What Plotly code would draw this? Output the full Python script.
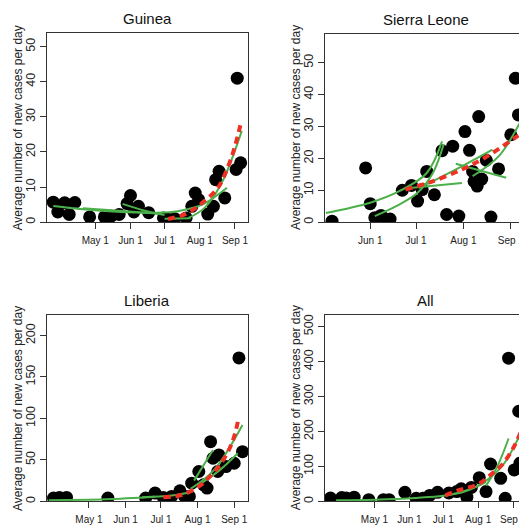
import plotly.graph_objects as go

# ---------------- Guinea ----------------
guinea_dates = ["2014-03-25", "2014-03-29", "2014-04-04", "2014-04-08", "2014-04-13", "2014-04-26",
                "2014-05-09", "2014-05-15", "2014-05-22", "2014-05-29", "2014-06-01", "2014-06-04",
                "2014-06-08", "2014-06-17", "2014-06-30", "2014-07-04", "2014-07-10", "2014-07-20",
                "2014-07-25", "2014-07-28", "2014-07-31", "2014-08-08", "2014-08-13", "2014-08-15",
                "2014-08-18", "2014-08-23", "2014-09-02", "2014-09-03", "2014-09-06"]
guinea_cases = [5.7, 2.9, 5.5, 2.2, 5.6, 1.5,
                1.5, 1.7, 2.2, 5.3, 7.6, 2.9,
                4.5, 2.7, 1.2, 0.8, 1.0, 1.2,
                4.5, 8.3, 6.4, 2.3, 4.5, 12.1,
                14.5, 6.9, 15.0, 41.0, 16.9]
guinea_green_dates = [["2014-03-25", "2014-04-20", "2014-05-20", "2014-06-20", "2014-07-05", "2014-07-20", "2014-08-05", "2014-08-25"],
                      ["2014-04-20", "2014-05-25", "2014-06-29"],
                      ["2014-05-25", "2014-06-12", "2014-07-01"],
                      ["2014-07-01", "2014-07-24"],
                      ["2014-07-22", "2014-08-05", "2014-08-20", "2014-09-07"]]
guinea_green_vals = [[4.6, 3.7, 3.0, 2.7, 2.8, 3.6, 5.3, 9.8],
                     [4.0, 3.2, 2.3],
                     [5.2, 3.4, 2.0],
                     [1.0, 1.1],
                     [1.2, 4.0, 11.0, 26.0]]
guinea_red_dates = ["2014-07-04", "2014-07-15", "2014-07-25", "2014-08-05", "2014-08-17", "2014-08-26", "2014-09-01", "2014-09-06"]
guinea_red_vals = [0.9, 1.8, 3.3, 6.0, 9.8, 15.9, 21.6, 28.0]

# ---------------- Sierra Leone ----------------
sl_dates = ["2014-05-07", "2014-05-29", "2014-06-01", "2014-06-04", "2014-06-08", "2014-06-11",
            "2014-06-14", "2014-06-22", "2014-06-28", "2014-07-02", "2014-07-05", "2014-07-08",
            "2014-07-13", "2014-07-18", "2014-07-21", "2014-07-25", "2014-07-29", "2014-08-02",
            "2014-08-05", "2014-08-07", "2014-08-08", "2014-08-10", "2014-08-11", "2014-08-13",
            "2014-08-16", "2014-08-19", "2014-08-24", "2014-09-01", "2014-09-04", "2014-09-06"]
sl_cases = [0.3, 17.0, 5.8, 1.4, 2.1, 1.0,
            1.0, 10.0, 11.5, 6.6, 10.2, 15.9,
            8.6, 22.4, 2.4, 23.8, 1.9, 28.4,
            22.5, 15.9, 12.8, 11.3, 33.1, 13.5,
            19.4, 1.6, 16.7, 27.4, 45.1, 33.6]
sl_green_dates = [["2014-05-03", "2014-06-01", "2014-06-20", "2014-07-08", "2014-07-18"],
                  ["2014-06-04", "2014-06-18", "2014-07-02", "2014-07-12", "2014-07-19"],
                  ["2014-06-27", "2014-07-31"],
                  ["2014-07-03", "2014-07-31", "2014-08-20"],
                  ["2014-07-27", "2014-08-29"],
                  ["2014-08-07", "2014-08-24", "2014-09-08"]]
sl_green_vals = [[2.9, 6.1, 9.7, 15.4, 25.3],
                 [1.9, 5.0, 9.2, 15.4, 24.3],
                 [10.7, 12.3],
                 [10.7, 17.5, 22.7],
                 [18.3, 13.9],
                 [14.4, 20.6, 32.1]]
sl_red_dates = ["2014-06-24", "2014-07-10", "2014-07-31", "2014-08-15", "2014-09-06"]
sl_red_vals = [10.2, 12.5, 16.5, 20.2, 27.2]

# ---------------- Liberia ----------------
lib_dates = ["2014-04-01", "2014-04-06", "2014-04-12", "2014-05-17", "2014-06-18", "2014-06-26",
             "2014-07-03", "2014-07-10", "2014-07-17", "2014-07-21", "2014-07-25", "2014-07-27",
             "2014-08-02", "2014-08-06", "2014-08-09", "2014-08-12", "2014-08-14", "2014-08-18",
             "2014-08-19", "2014-08-25", "2014-09-01", "2014-09-05", "2014-09-08"]
lib_cases = [4.0, 4.8, 4.8, 4.0, 4.0, 10.0,
             4.8, 6.0, 12.7, 6.0, 6.0, 22.0,
             36.0, 20.0, 16.0, 72.0, 52.0, 36.0,
             56.0, 42.0, 46.0, 173.0, 60.0]
lib_green_dates = [["2014-03-28", "2014-05-15", "2014-06-26"],
                   ["2014-06-15", "2014-07-10", "2014-07-28"],
                   ["2014-07-29", "2014-08-14"],
                   ["2014-07-26", "2014-08-15", "2014-09-08"],
                   ["2014-08-02", "2014-08-20", "2014-09-04"]]
lib_green_vals = [[1.5, 2.5, 5.5],
                  [5.0, 7.0, 12.0],
                  [25.0, 62.0],
                  [15.0, 38.0, 92.0],
                  [20.0, 38.0, 58.0]]
lib_red_dates = ["2014-07-03", "2014-07-19", "2014-08-02", "2014-08-10", "2014-08-20", "2014-08-30", "2014-09-05"]
lib_red_vals = [5.0, 8.0, 18.0, 28.0, 44.0, 70.0, 102.0]

# ---------------- All ----------------
all_dates = ["2014-03-23", "2014-04-02", "2014-04-06", "2014-04-13", "2014-04-26", "2014-05-09",
             "2014-05-14", "2014-05-28", "2014-06-07", "2014-06-13", "2014-06-19", "2014-06-26",
             "2014-07-06", "2014-07-13", "2014-07-17", "2014-07-22", "2014-07-26", "2014-08-02",
             "2014-08-08", "2014-08-12", "2014-08-21", "2014-08-25", "2014-08-28", "2014-09-02",
             "2014-09-06", "2014-09-07"]
all_cases = [9.4, 11.0, 10.0, 12.0, 5.0, 5.0,
             5.0, 26.0, 9.0, 9.0, 17.0, 26.0,
             24.0, 28.0, 36.0, 12.0, 40.0, 68.0,
             28.0, 107.0, 66.0, 9.0, 410.0, 90.0,
             258.0, 109.0]
all_green_dates = [["2014-03-28", "2014-05-01", "2014-06-07", "2014-07-01", "2014-07-20", "2014-08-08"],
                   ["2014-08-08", "2014-08-18", "2014-08-28"],
                   ["2014-07-03", "2014-08-01", "2014-08-22", "2014-09-07"]]
all_green_vals = [[3.0, 5.0, 10.0, 16.0, 28.0, 55.0],
                  [45.0, 100.0, 180.0],
                  [16.0, 45.0, 100.0, 190.0]]
all_red_dates = ["2014-07-03", "2014-07-13", "2014-08-01", "2014-08-12", "2014-08-22", "2014-09-01", "2014-09-08"]
all_red_vals = [17.0, 30.0, 49.0, 76.0, 104.0, 152.0, 200.0]

# ---------------- Axes ----------------
titles = ["Guinea", "Sierra Leone", "Liberia", "All"]
month_ticks_a = ["2014-05-01", "2014-06-01", "2014-07-01", "2014-08-01", "2014-09-01"]
month_labels_a = ["May 1", "Jun 1", "Jul 1", "Aug 1", "Sep 1"]
month_ticks_b = ["2014-06-01", "2014-07-01", "2014-08-01", "2014-09-01"]
month_labels_b = ["Jun 1", "Jul 1", "Aug 1", "Sep 1"]
guinea_yticks = [0, 10, 20, 30, 40, 50]
sl_yticks = [0, 10, 20, 30, 40, 50]
lib_yticks = [0, 50, 100, 150, 200]
all_yticks = [0, 100, 200, 300, 400, 500]

# the page body adds an 8px margin; the figure is sized so it ends at the window edge
OFF = 8
W, H = 527 - OFF, 525 - OFF
GREEN = "#4cb04a"
RED = "#ee3124"
FONT = "Liberation Sans, Arial, sans-serif"

panels = [
    dict(dates=guinea_dates, cases=guinea_cases, gd=guinea_green_dates, gv=guinea_green_vals,
         rd=guinea_red_dates, rv=guinea_red_vals, px=(47, 250), py=(33, 223),
         xr=["2014-03-19 05:00", "2014-09-12 14:00"], yr=[0, 53.9], xt=month_ticks_a, xl=month_labels_a,
         yt=guinea_yticks, right=False),
    dict(dates=sl_dates, cases=sl_cases, gd=sl_green_dates, gv=sl_green_vals,
         rd=sl_red_dates, rv=sl_red_vals, px=(327.3, 527), py=(34, 223),
         xr=["2014-05-02 07:00", "2014-09-09 00:00"], yr=[0, 59], xt=month_ticks_b, xl=month_labels_b,
         yt=sl_yticks, right=True),
    dict(dates=lib_dates, cases=lib_cases, gd=lib_green_dates, gv=lib_green_vals,
         rd=lib_red_dates, rv=lib_red_vals, px=(47, 250), py=(316, 503.3),
         xr=["2014-03-26 05:00", "2014-09-12 19:00"], yr=[0, 225], xt=month_ticks_a, xl=month_labels_a,
         yt=lib_yticks, right=False),
    dict(dates=all_dates, cases=all_cases, gd=all_green_dates, gv=all_green_vals,
         rd=all_red_dates, rv=all_red_vals, px=(327.3, 527), py=(316, 503.3),
         xr=["2014-03-18 00:00", "2014-09-09 19:00"], yr=[0, 534], xt=month_ticks_a, xl=month_labels_a,
         yt=all_yticks, right=True),
]

fig = go.Figure()
annotations = []
layout_axes = {}
for i, p in enumerate(panels):
    n = i + 1
    xa = "x" if n == 1 else f"x{n}"
    ya = "y" if n == 1 else f"y{n}"
    fig.add_trace(go.Scatter(x=p["dates"], y=p["cases"], mode="markers", xaxis=xa, yaxis=ya,
                             marker=dict(color="black", size=13, line=dict(width=0)), showlegend=False))
    for gd, gv in zip(p["gd"], p["gv"]):
        fig.add_trace(go.Scatter(x=gd, y=gv, mode="lines", xaxis=xa, yaxis=ya,
                                 line=dict(color=GREEN, width=2, shape="spline", smoothing=1.0),
                                 showlegend=False))
    fig.add_trace(go.Scatter(x=p["rd"], y=p["rv"], mode="lines", xaxis=xa, yaxis=ya,
                             line=dict(color=RED, width=4, dash="7px,5px", shape="spline", smoothing=1.0),
                             showlegend=False))
    x0, x1 = p["px"][0] - OFF, p["px"][1] - OFF
    y0, y1 = p["py"][0] - OFF, p["py"][1] - OFF
    xdom = [x0 / W, min(x1 / W, 1.0)]
    ydom = [1 - y1 / H, 1 - y0 / H]
    layout_axes["xaxis" if n == 1 else f"xaxis{n}"] = dict(
        domain=xdom, anchor=ya, range=p["xr"], type="date",
        tickvals=p["xt"], ticktext=p["xl"], ticks="outside", ticklen=6, tickcolor="#333",
        ticklabeloverflow="allow", ticklabelstandoff=3,
        showline=True, linecolor="#333", linewidth=1, mirror=True,
        showgrid=False, zeroline=False, tickfont=dict(family=FONT, size=10, color="#222"))
    layout_axes["yaxis" if n == 1 else f"yaxis{n}"] = dict(
        domain=ydom, anchor=xa, range=p["yr"], tickvals=p["yt"], ticks="outside", ticklen=6,
        tickcolor="#333", tickangle=-90, showline=True, linecolor="#333", linewidth=1,
        mirror=not p["right"], showgrid=False, zeroline=False,
        tickfont=dict(family=FONT, size=12.5, color="#222"))
    cx = x0 + 203 / 2
    annotations.append(dict(text=titles[i], x=cx / W, y=1 - (y0 - 14) / H, xref="paper", yref="paper",
                            xanchor="center", yanchor="middle", showarrow=False,
                            font=dict(family=FONT, size=15, color="#111")))
    annotations.append(dict(text="Average number of new cases per day", x=(x0 - 29) / W,
                            y=1 - ((y0 + y1) / 2) / H, xref="paper", yref="paper", textangle=-90,
                            xanchor="center", yanchor="middle", showarrow=False,
                            font=dict(family=FONT, size=12, color="#222")))

fig.update_layout(width=W, height=H, autosize=False, margin=dict(l=0, r=0, t=0, b=0),
                  paper_bgcolor="white", plot_bgcolor="white", annotations=annotations,
                  **layout_axes)
fig.write_html("out.html")
